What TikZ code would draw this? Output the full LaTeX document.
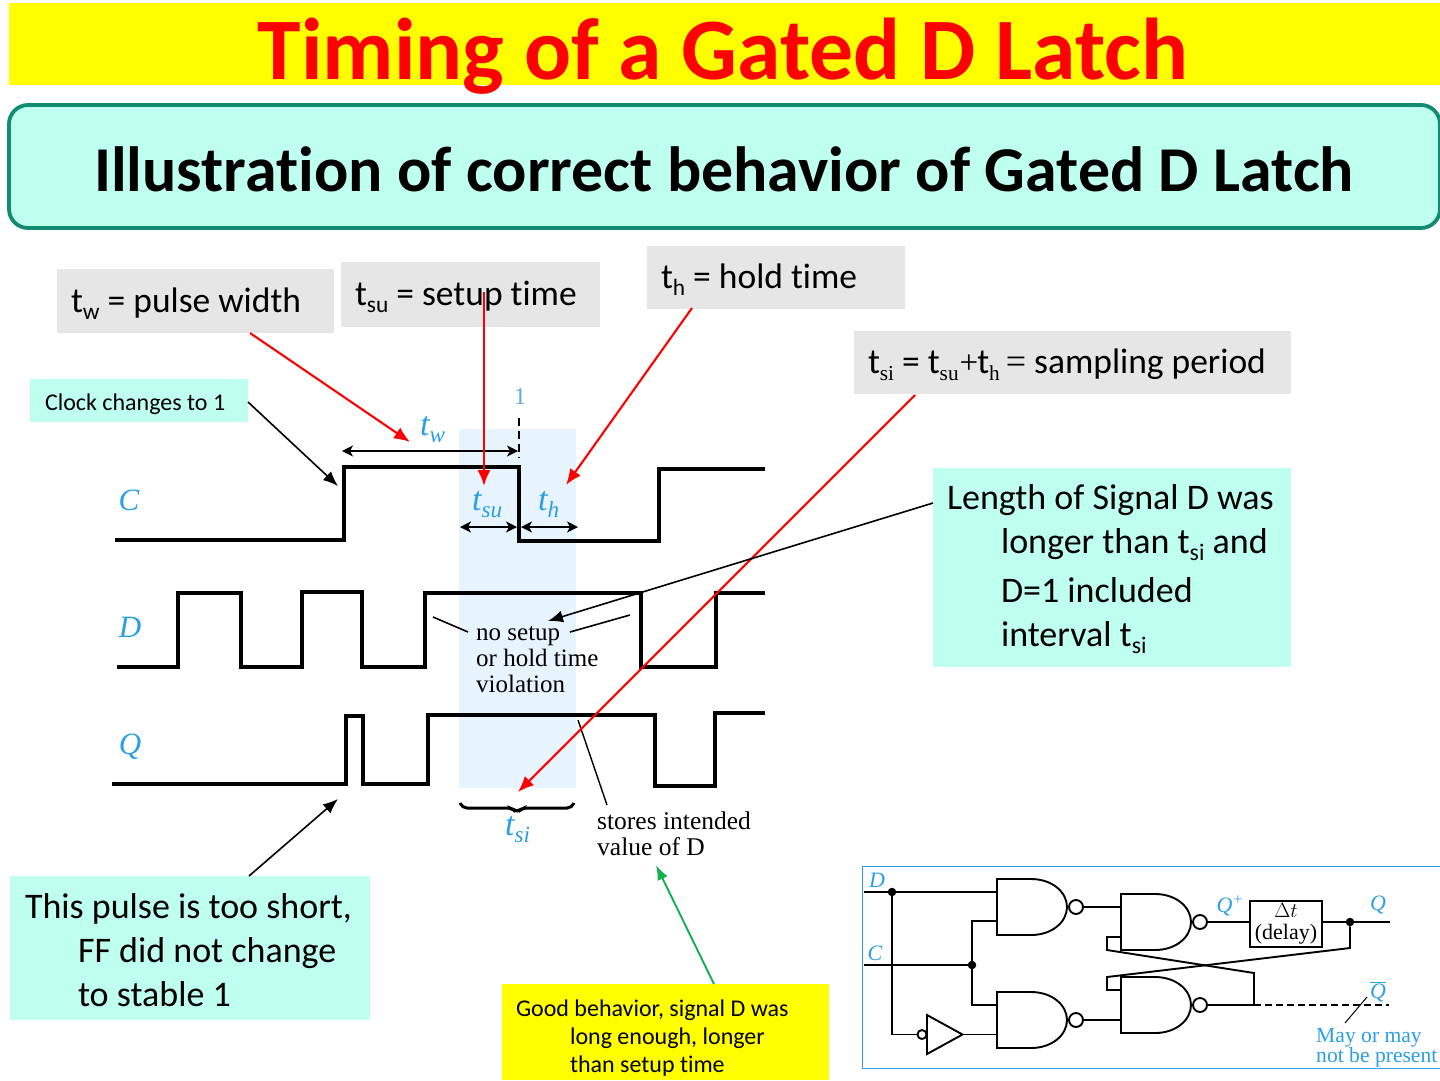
\documentclass[tikz,border=0pt]{standalone}
\usepackage{fontspec}
\setmainfont[Ligatures=NoCommon]{Carlito}
\newfontfamily\srf{Liberation Serif}
\usetikzlibrary{arrows.meta}
\definecolor{aqua}{HTML}{BFFFEF}
\definecolor{teal2}{HTML}{128C70}
\definecolor{graybox}{HTML}{E6E6E6}
\definecolor{bandblue}{HTML}{E8F4FD}
\definecolor{sigblue}{HTML}{2A9FE6}
\definecolor{lightblue}{HTML}{5AA9E0}
\definecolor{greenarrow}{HTML}{12B050}
\definecolor{pureyellow}{HTML}{FFFF00}
\definecolor{purered}{HTML}{FF0000}
\newcommand{\fs}[1]{\fontsize{#1}{#1}\selectfont}
\newcommand{\ssub}[1]{\raisebox{-0.2em}{\fontsize{0.66em}{0.66em}\selectfont #1}}
\newcommand{\tsub}[1]{\raisebox{-0.22em}{\fontsize{0.68em}{0.68em}\selectfont #1}}
\newcommand{\smsub}[1]{\raisebox{-0.2em}{\srf\fontsize{0.6em}{0.6em}\selectfont #1}}
\tikzset{
  box/.style={inner sep=0pt,outer sep=0pt,anchor=north west},
  lbl/.style={inner sep=0pt,outer sep=0pt,anchor=base west,align=left},
  wave/.style={line width=3.6pt,miter limit=4},
  wire/.style={line width=1.9pt},
  callblack/.style={line width=1.6pt,-{Latex[length=15pt,width=12pt]}},
  callred/.style={draw=purered,line width=2.1pt,-{Latex[length=16pt,width=13pt]}},
  callgreen/.style={draw=greenarrow,line width=1.9pt,-{Latex[length=15pt,width=11pt]}},
  dimarrow/.style={line width=1.4pt,{Stealth[length=11pt,width=11pt,inset=3pt]}-{Stealth[length=11pt,width=11pt,inset=3pt]}},
  sigtxt/.style={inner sep=0pt,text=sigblue,font=\srf\itshape\fs{31}},
  timetxt/.style={inner sep=0pt,anchor=base west,text=sigblue,font=\srf\itshape\fs{34}},
  serifnote/.style={inner sep=0pt,anchor=base west,font=\srf\fs{25},align=left},
  latchtxt/.style={inner sep=0pt,text=sigblue,font=\srf\itshape\fs{22}},
  gatebody/.style={line width=1.9pt,fill=white},
  dot/.style={circle,fill=black,inner sep=0pt,minimum size=8.5pt}
}
% NAND gate: #1 name, #2 left x, #3 top y (56 high, 70 wide, bubble radius 7)
\newcommand{\nandgate}[3]{%
  \begin{scope}[shift={(#2,#3)}]
  \draw[gatebody] (0,0) -- (34,0) .. controls (55,0) and (70,13) .. (70,28)
     .. controls (70,43) and (55,56) .. (34,56) -- (0,56) -- cycle;
  \node[circle,draw,line width=1.9pt,fill=white,inner sep=0pt,minimum size=14pt] (#1) at (79,28) {};
  \end{scope}
}
\begin{document}
\begin{tikzpicture}[x=1pt,y=-1pt]
\useasboundingbox (0,0) rectangle (1440,1080);
\fill[white] (0,0) rectangle (1440,1080);

% title band and heading
\node[box,fill=pureyellow,minimum width=1431pt,minimum height=82pt] (titleband) at (9,3) {};
\node[inner sep=0pt,anchor=base,text=purered,font=\fs{87.7}\bfseries] (title) at (723,79) {Timing of a Gated D Latch};
\node[box,draw=teal2,line width=3.8pt,fill=aqua,rounded corners=19pt,minimum width=1431pt,minimum height=123pt] (heading) at (9,105) {};
\node[inner sep=0pt,anchor=base,font=\fs{63.9}\bfseries] (headtxt) at (724,191) {Illustration of correct behavior of Gated D Latch};

% shaded sampling window
\fill[bandblue] (459,429) rectangle (576,788);

% waveforms
\draw[wave] (115,540) -- (344,540) -- (344,467) -- (519,467) -- (519,541) -- (659,541) -- (659,469) -- (765,469);
\draw[wave] (117,667) -- (178,667) -- (178,593) -- (241,593) -- (241,667) -- (302,667) -- (302,592) -- (362,592) -- (362,667) -- (425,667) -- (425,593) -- (641,593) -- (641,667) -- (716,667) -- (716,593) -- (765,593);
\draw[wave] (112,784) -- (346,784) -- (346,716) -- (363,716) -- (363,784) -- (428,784) -- (428,715) -- (655,715) -- (655,786) -- (715,786) -- (715,713) -- (765,713);
\node[sigtxt] (sigC) at (129,500) {C};
\node[sigtxt] (sigD) at (130,627) {D};
\node[sigtxt] (sigQ) at (130,747) {Q};

% timing marks
\coordinate (twL) at (342,451); \coordinate (twR) at (518,451);
\coordinate (suL) at (460,527); \coordinate (suR) at (517,527);
\coordinate (hL) at (521,527); \coordinate (hR) at (578,527);
\draw[dimarrow] (twL) -- (twR);
\draw[dimarrow] (suL) -- (suR);
\draw[dimarrow] (hL) -- (hR);
\coordinate (dashT) at (519,418); \coordinate (dashB) at (519,458);
\draw[line width=1.6pt,dash pattern=on 8pt off 5pt] (dashT) -- (dashB);
\node[inner sep=0pt,text=lightblue,font=\srf\fs{24}] (one) at (520,397) {1};
\node[timetxt] (tw) at (420,435) {t\tsub{w}};
\node[timetxt] (tsu) at (472,510) {t\tsub{su}};
\node[timetxt] (th) at (538,510) {t\tsub{h}};
\node[timetxt] (tsi) at (505,835) {t\tsub{si}};
\draw[line width=3pt,rounded corners=5pt] (460,803) -- (462,808) -- (512,808) -- (517,813) -- (522,808) -- (572,808) -- (574,803);

% serif notes (a node's base is its last line)
\node[serifnote] (nosetup) at (476,692) {no setup\\[1pt]or hold time\\[1pt]violation};
\node[serifnote,font=\srf\fs{25.5}] (stores) at (597,855) {stores intended\\[0.5pt]value of D};
\coordinate (ns1a) at (433,617); \coordinate (ns1b) at (468,632);
\coordinate (ns2a) at (570,632); \coordinate (ns2b) at (630,615);
\coordinate (stA) at (578,720); \coordinate (stB) at (607,805);
\draw[line width=1.6pt] (ns1a) -- (ns1b);
\draw[line width=1.6pt] (ns2a) -- (ns2b);
\draw[line width=1.4pt] (stA) -- (stB);

% definition boxes
\node[box,fill=graybox,minimum width=277pt,minimum height=64pt] (twbox) at (57,269) {};
\node[lbl,font=\fs{35.5}] (twtxt) at (71,312) {t\ssub{w} = pulse width};
\node[box,fill=graybox,minimum width=259pt,minimum height=65pt] (subox) at (341,262) {};
\node[lbl,font=\fs{35.5}] (sutxt) at (355,305) {t\ssub{su} = setup time};
\node[box,fill=graybox,minimum width=258pt,minimum height=63pt] (hbox) at (647,246) {};
\node[lbl,font=\fs{35.5}] (htxt) at (661,288) {t\ssub{h} = hold time};
\node[box,fill=graybox,minimum width=437pt,minimum height=63pt] (sibox) at (854,331) {};
\node[lbl,font=\fs{35.5}] (sitxt) at (868,373) {t\smsub{si} = t\smsub{su}{\srf\fs{33}\hspace{1pt}+\hspace{-1pt}}t\smsub{h}\hspace{6pt}{\srf\fs{36}=} sampling period};

\node[box,fill=aqua,minimum width=218pt,minimum height=43pt] (clkbox) at (30,379) {};
\node[lbl,font=\fs{24}] (clktxt) at (45,410) {Clock changes to 1};

\node[box,fill=aqua,minimum width=358pt,minimum height=199pt] (lenbox) at (933,468) {};
\node[lbl,font=\fs{36}] (lentxt) at (947,646) {Length of Signal D was\\[8pt]\hspace*{54pt}longer than t\ssub{si} and\\[13pt]\hspace*{54pt}D=1 included\\[8pt]\hspace*{54pt}interval t\ssub{si}};

\node[box,fill=aqua,minimum width=360pt,minimum height=144pt] (pulsebox) at (10,876) {};
\node[lbl,font=\fs{36}] (pulsetxt) at (25,1006) {This pulse is too short,\\[8pt]\hspace*{53pt}FF did not change\\[8pt]\hspace*{53pt}to stable 1};

\node[box,fill=pureyellow,minimum width=327pt,minimum height=96pt] (goodbox) at (502,984) {};
\node[lbl,font=\fs{24}] (goodtxt) at (516,1072) {Good behavior, signal D was\\[4pt]\hspace*{54pt}long enough, longer\\[4pt]\hspace*{54pt}than setup time};

% callouts
\coordinate (aTw) at (410,442); \coordinate (sTw) at (250,333);
\coordinate (aSu) at (484,486); \coordinate (sSu) at (484,292);
\coordinate (aH) at (566,485); \coordinate (sH) at (692,308);
\coordinate (aSi) at (518,792); \coordinate (sSi) at (915,395);
\coordinate (aClk) at (338,486); \coordinate (sClk) at (248,402);
\coordinate (aLen) at (548,621); \coordinate (sLen) at (933,503);
\coordinate (aP) at (338,799); \coordinate (sP) at (249,876);
\coordinate (aG) at (656,865); \coordinate (sG) at (714,984);
\draw[callred] (sTw) -- (aTw);
\draw[callred] (sSu) -- (aSu);
\draw[callred] (sH) -- (aH);
\draw[callred] (sSi) -- (aSi);
\draw[callblack] (sClk) -- (aClk);
\draw[callblack] (sLen) -- (aLen);
\draw[callblack] (sP) -- (aP);
\draw[callgreen] (sG) -- (aG);

% latch circuit
\node[box,draw=sigblue,line width=1pt,minimum width=578pt,minimum height=202pt] (frame) at (862,866) {};
\nandgate{g1}{997}{879}
\nandgate{g2}{1121}{894}
\nandgate{g3}{997}{992}
\nandgate{g4}{1121}{977}
\node[box,draw,line width=1.9pt,fill=white,minimum width=72pt,minimum height=46pt,font=\srf\fs{22},align=center,anchor=center] (delay) at (1286,924) {$\Delta t$\\(delay)};
\coordinate (dIn) at (864,892); \coordinate (g1a) at (997,892);
\coordinate (cIn) at (864,965); \coordinate (g1b) at (997,921);
\coordinate (g3a) at (997,1005); \coordinate (g3b) at (997,1034.5);
\coordinate (g2a) at (1121,907); \coordinate (g2b) at (1121,937);
\coordinate (g4a) at (1121,990); \coordinate (g4b) at (1121,1020);
\coordinate (qOut) at (1390,922); \coordinate (nqEnd) at (1389,1005);
\coordinate (nqJ) at (1254,1005);
\node[dot] (dj) at (892,892) {};
\node[dot] (cj) at (972,965) {};
\node[dot] (qj) at (1350,922) {};
\node[circle,draw,line width=1.9pt,fill=white,inner sep=0pt,minimum size=9pt] (invb) at (922,1034.5) {};
\draw[gatebody] (927,1015) -- (962.5,1034.5) -- (927,1054) -- cycle;
\coordinate (invout) at (962.5,1034.5);
\draw[wire] (dIn) -- (g1a);
\draw[wire] (dj) -- (892,1034.5) -- (invb);
\draw[wire] (invout) -- (g3b);
\draw[wire] (cIn) -- (cj);
\draw[wire] (g1b) -- (972,921) -- (972,1005) -- (g3a);
\draw[wire] (g1) -- (g2a);
\draw[wire] (g3) -- (g4b);
\draw[wire] (g2) -- (delay.west |- g2);
\draw[wire] (delay.east |- g2) -- (qOut);
\draw[wire] (qj) -- (1350,948) -- (1107,977) -- (1107,990) -- (g4a);
\draw[wire] (g2b) -- (1107,937) -- (1107,950) -- (1254,973) -- (nqJ);
\draw[wire] (g4) -- (nqJ);
\draw[wire,dash pattern=on 7pt off 4pt] (nqJ) -- (nqEnd);
\coordinate (mayA) at (1367,997); \coordinate (mayB) at (1345,1023);
\draw[line width=1pt] (mayA) -- (mayB);
\node[latchtxt] (lD) at (877,880) {D};
\node[latchtxt] (lC) at (875,953) {C};
\node[latchtxt] (lQp) at (1230,906) {Q\textsuperscript{+}};
\node[latchtxt] (lQ) at (1378,905) {Q};
\node[latchtxt] (lnQ) at (1378,992) {$\overline{\mbox{Q}}$};
\node[inner sep=0pt,anchor=base west,align=left,text=sigblue,font=\srf\fs{21.6}] (may) at (1316,1062) {May or may\\[-1.6pt]not be present};
\end{tikzpicture}
\end{document}
